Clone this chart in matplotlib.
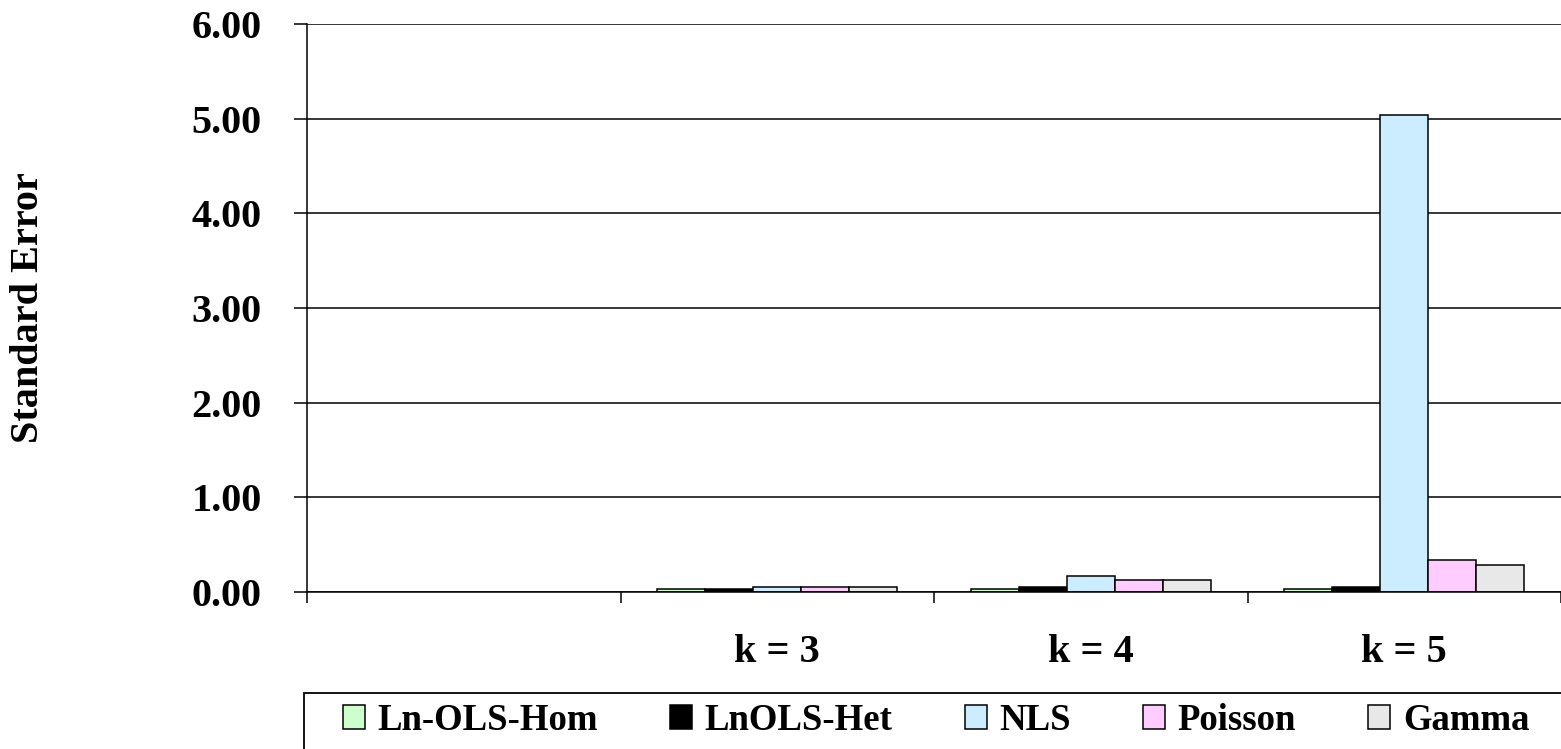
import numpy as np
import matplotlib
matplotlib.use("Agg")
import matplotlib.pyplot as plt
from matplotlib.patches import Patch, Rectangle

# ---- data ----
categories = ["", "k = 3", "k = 4", "k = 5"]
series_names = ["Ln-OLS-Hom", "LnOLS-Het", "NLS", "Poisson", "Gamma"]
ln_ols_hom = [np.nan, 0.03, 0.03, 0.03]
lnols_het = [np.nan, 0.03, 0.05, 0.05]
nls = [np.nan, 0.05, 0.17, 5.04]
poisson = [np.nan, 0.05, 0.13, 0.34]
gamma = [np.nan, 0.05, 0.13, 0.29]
y_ticks = [0, 1, 2, 3, 4, 5, 6]
y_label = "Standard Error"

series_values = [ln_ols_hom, lnols_het, nls, poisson, gamma]
colors = ["#CCFFCC", "#000000", "#CCECFF", "#FFCCFF", "#E8E8E8"]

plt.rcParams['font.family'] = ['Liberation Serif', 'DejaVu Serif']
plt.rcParams['font.weight'] = 'bold'

W, H = 1561, 749
fig = plt.figure(figsize=(W / 100, H / 100), dpi=100)
ax = fig.add_axes([307 / W, 1 - 592 / H, (1561 - 307) / W, (592 - 24) / H])

x = np.arange(len(categories))
bw = 0.153
for i, (vals, c) in enumerate(zip(series_values, colors)):
    ax.bar(x + (i - 2) * bw, vals, width=bw, color=c, edgecolor="black",
           linewidth=1.1, label=series_names[i], zorder=3)

ax.set_xlim(-0.5, len(categories) - 0.5)
ax.set_ylim(0, 6)
ax.set_yticks(y_ticks)
ax.set_yticklabels([f"{v:.2f}" for v in y_ticks])
ax.yaxis.grid(True, color="black", linewidth=1.1)
ax.set_axisbelow(True)

# category boundaries as major ticks, labels on minor ticks at centres
ax.set_xticks(np.arange(-0.5, len(categories), 1.0))
ax.set_xticklabels([])
ax.set_xticks(x, minor=True)
ax.set_xticklabels(categories, minor=True)
ax.tick_params(axis="x", which="major", direction="out", length=8, width=1.1)
ax.tick_params(axis="x", which="minor", length=0, pad=30, labelsize=29)
ax.tick_params(axis="y", direction="out", length=9.5, width=1.1, pad=23, labelsize=29)

for s in ["top", "right"]:
    ax.spines[s].set_visible(False)
ax.spines["left"].set_linewidth(1.1)
ax.spines["bottom"].set_linewidth(1.1)
ax.spines["bottom"].set_zorder(4)

fig.text(29 / W, 1 - 308 / H, y_label, rotation=90, ha="center", va="center",
         fontsize=29, fontweight="bold")

# legend
handles = [Patch(facecolor=c, edgecolor="black", linewidth=1.1) for c in colors]
fig.legend(handles, series_names, loc="upper left", ncol=5,
           bbox_to_anchor=(343 / W, 1 - 703 / H), frameon=False,
           borderpad=0, borderaxespad=0, handlelength=0.6, handleheight=0.6,
           handletextpad=0.34, columnspacing=1.96, fontsize=26.5)
fig.patches.append(Rectangle((304 / W, -0.05), 1.1, (1 - 693 / H) + 0.05,
                             transform=fig.transFigure, fill=False,
                             edgecolor="black", linewidth=1.3))

fig.savefig("out.png", dpi=100)
